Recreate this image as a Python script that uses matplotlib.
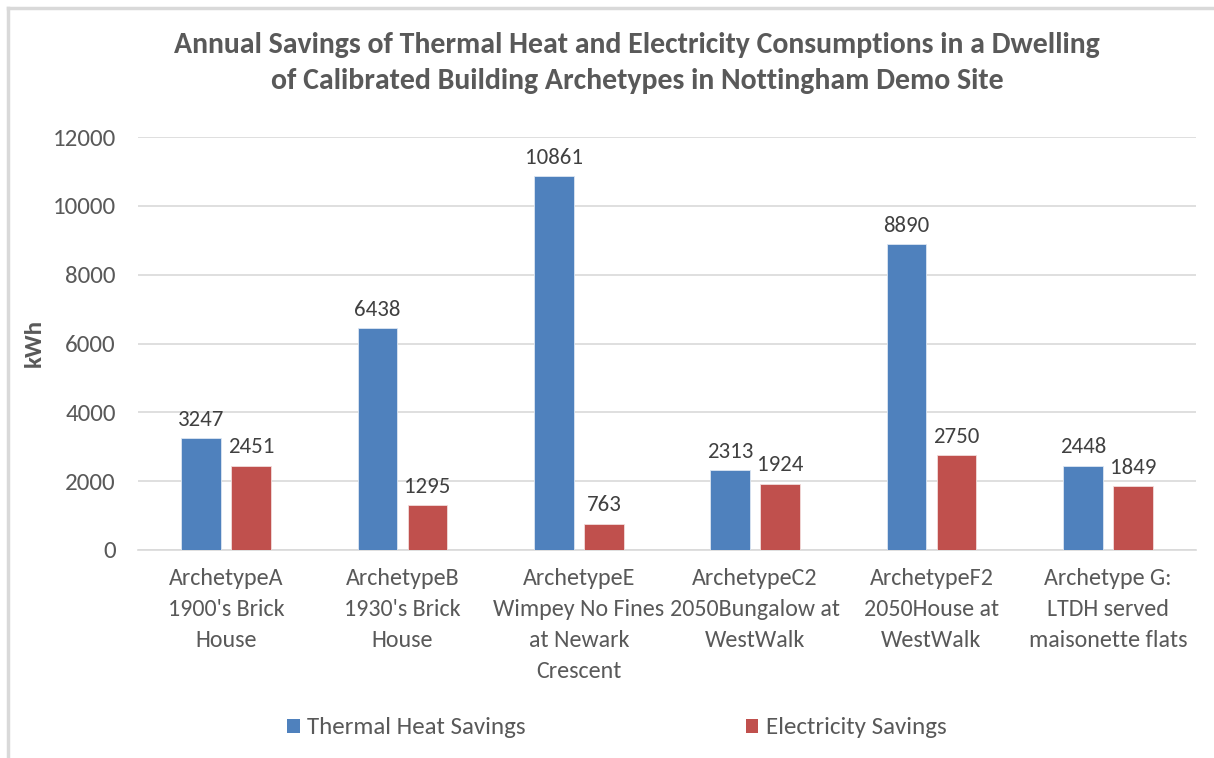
import matplotlib
matplotlib.use('Agg')
import matplotlib.pyplot as plt
import numpy as np
from matplotlib.patches import Patch
from matplotlib.lines import Line2D

plt.rcParams['font.family'] = ['Carlito', 'Lato', 'DejaVu Sans']

categories = [
    "ArchetypeA\n1900's Brick\nHouse",
    "ArchetypeB\n1930's Brick\nHouse",
    "ArchetypeE\nWimpey No Fines\nat Newark\nCrescent",
    "ArchetypeC2\n2050Bungalow at\nWestWalk",
    "ArchetypeF2\n2050House at\nWestWalk",
    "Archetype G:\nLTDH served\nmaisonette flats",
]
thermal = [3247, 6438, 10861, 2313, 8890, 2448]
electricity = [2451, 1295, 763, 1924, 2750, 1849]
series_names = ['Thermal Heat Savings', 'Electricity Savings']
yticks = [0, 2000, 4000, 6000, 8000, 10000, 12000]

blue = '#4F81BD'
red = '#C0504D'
text_col = '#595959'

fig = plt.figure(figsize=(12.14, 7.58), dpi=100)
ax = fig.add_axes([138 / 1214, 208 / 758, 1058 / 1214, 413 / 758])

x = np.arange(len(categories))
w = 0.225
off = 0.142
b1 = ax.bar(x - off, thermal, w, color=blue, edgecolor='#dce6f2', linewidth=0.6, zorder=3)
b2 = ax.bar(x + off, electricity, w, color=red, edgecolor='#f2dcdb', linewidth=0.6, zorder=3)

for bars in (b1, b2):
    for r in bars:
        ax.annotate(f'{int(r.get_height())}', (r.get_x() + r.get_width() / 2, r.get_height()),
                    xytext=(0, 6), textcoords='offset points', ha='center', va='bottom',
                    fontsize=16.5, color='#404040')

ax.set_xlim(-0.5, len(categories) - 0.5)
ax.set_ylim(0, 12000)
ax.set_yticks(yticks)
ax.set_yticklabels([str(v) for v in yticks], fontsize=18, color=text_col)
ax.set_xticks(x)
ax.set_xticklabels(categories, fontsize=17.3, color=text_col, linespacing=1.58)
ax.tick_params(axis='both', length=0)
ax.tick_params(axis='y', pad=16)
ax.tick_params(axis='x', pad=13)
ax.grid(axis='y', color='#d9d9d9', linewidth=1.2, zorder=0)
for s in ['top', 'right', 'left']:
    ax.spines[s].set_visible(False)
ax.spines['bottom'].set_color('#d9d9d9')
ax.spines['bottom'].set_linewidth(1.2)

fig.text(34 / 1214, 1 - 343 / 758, 'kWh', rotation=90, ha='center', va='center',
         fontsize=18, fontweight='bold', color=text_col)

fig.text(637 / 1214, 1 - 63 / 758,
         'Annual Savings of Thermal Heat and Electricity Consumptions in a Dwelling\n'
         'of Calibrated Building Archetypes in Nottingham Demo Site',
         ha='center', va='center', fontsize=21.5, fontweight='bold', color=text_col,
         linespacing=1.45)

handles = [Patch(facecolor=blue), Patch(facecolor=red)]
fig.legend(handles, series_names, loc='center', bbox_to_anchor=(617 / 1214, 1 - 728 / 758),
           ncol=2, frameon=False, fontsize=18, labelcolor=text_col,
           handlelength=0.5, handleheight=0.5, handletextpad=0.3, columnspacing=8.8)

# chart frame (top and left edges)
fig.add_artist(Line2D([8 / 1214, 1212 / 1214], [1 - 8 / 758, 1 - 8 / 758],
                      color='#d9d9d9', linewidth=2.5, transform=fig.transFigure))
fig.add_artist(Line2D([8 / 1214, 8 / 1214], [1 - 8 / 758, 1 - 757 / 758],
                      color='#d9d9d9', linewidth=2.5, transform=fig.transFigure))

fig.savefig('out.png', dpi=100)
